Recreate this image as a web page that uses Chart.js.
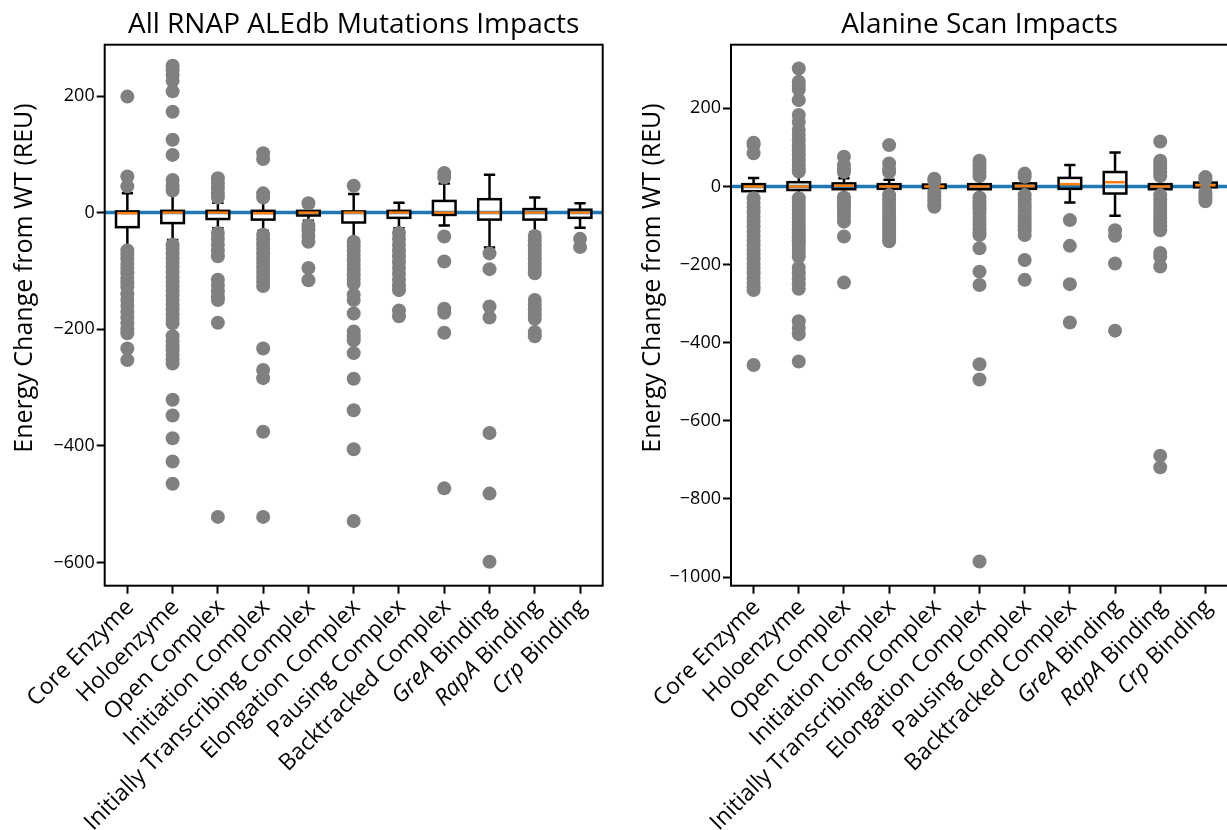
<!DOCTYPE html>
<html>
<head>
<meta charset="utf-8">
<script src="https://cdn.jsdelivr.net/npm/chart.js@4.4.1/dist/chart.umd.min.js"></script>
<style>
  html, body { margin: 0; padding: 0; background: #fff; overflow: hidden; width: 1227px; height: 830px; }
  body { position: relative; }
  canvas { position: absolute; top: 0; }
  #aledb { left: 0; }
  #alanine { left: 612px; }
</style>
</head>
<body>
<canvas id="aledb" width="612" height="830"></canvas>
<canvas id="alanine" width="640" height="830"></canvas>
<script>
// Complex / binding-site categories shared by both panels
const categories = [
  'Core Enzyme', 'Holoenzyme', 'Open Complex', 'Initiation Complex',
  'Initially Transcribing Complex', 'Elongation Complex', 'Pausing Complex',
  'Backtracked Complex', 'GreA Binding', 'RapA Binding', 'Crp Binding'
];
// protein names set in italics in the axis labels
const italicNames = ['GreA', 'RapA', 'Crp'];
const yAxisLabel = 'Energy Change from WT (REU)';
const referenceEnergy = 0;

// Panel 1: all RNAP ALEdb mutations (REU)
const aledbTicks       = [-600, -400, -200, 0, 200];
const aledbWhiskerHigh = [33, 34, 17, 23, 10, 32, 17, 50, 65, 26, 16];
const aledbQ3          = [2, 3, 3, 3, 3, 2, 3, 20, 23, 6, 5];
const aledbMedian      = [-1, 0, 0, -1, 0, 0, 0, 0, 0, 0, 0];
const aledbQ1          = [-25, -18, -11, -12, -5, -17, -9, -4, -12, -12, -9];
const aledbWhiskerLow  = [-61, -47, -27, -31, -14, -45, -27, -22, -60, -34, -26];
const aledbOutliers = [
  [199, 62, 45, -65, -72, -80, -88, -96, -104, -112, -120, -128, -140, -150, -160, -170, -180, -190, -200, -207, -233, -253],
  [252, 244, 236, 226, 208, 173, 125, 99, 56, 46, 38, -55, -62, -70, -78, -86, -94, -102, -110, -118, -126, -134, -142, -150, -158, -166, -174, -182, -190, -212, -220, -228, -236, -244, -252, -259, -321, -348, -387, -427, -465],
  [59, 50, 42, 33, 26, -35, -45, -55, -65, -75, -115, -125, -135, -145, -150, -189, -522],
  [102, 92, 33, 26, -38, -46, -54, -62, -70, -78, -86, -94, -102, -110, -118, -126, -233, -270, -284, -376, -522],
  [16, -22, -30, -40, -50, -95, -116],
  [46, -50, -58, -66, -74, -82, -90, -98, -106, -114, -122, -141, -150, -173, -204, -212, -219, -241, -285, -339, -406, -529],
  [-35, -45, -55, -65, -75, -85, -95, -105, -115, -125, -133, -168, -178],
  [68, 60, -41, -84, -165, -172, -206, -473],
  [-70, -97, -161, -180, -378, -482, -599],
  [-40, -48, -56, -64, -72, -80, -88, -96, -104, -150, -158, -166, -174, -182, -205, -212],
  [-45, -59]
];

// Panel 2: alanine scan (REU)
const alanineTicks       = [-1000, -800, -600, -400, -200, 0, 200];
const alanineWhiskerHigh = [22, 34, 21, 17, 8, 22, 18, 55, 87, 21, 14];
const alanineQ3          = [6, 11, 8, 6, 5, 6, 8, 22, 37, 6, 10];
const alanineMedian      = [0, 0, 2, 0, 0, 0, 1, 6, 11, 0, 3];
const alanineQ1          = [-12, -9, -7, -6, -4, -7, -6, -6, -18, -7, -2];
const alanineWhiskerLow  = [-26, -26, -20, -15, -9, -22, -17, -41, -75, -17, -9];
const alanineOutliers = [
  [112, 106, 85, -30, -42, -54, -66, -78, -90, -102, -114, -126, -138, -150, -162, -174, -186, -198, -210, -222, -234, -246, -258, -265, -457],
  [302, 268, 258, 248, 221, 183, 165, 145, 132, 118, 105, 92, 80, 68, 56, 45, 38, -30, -40, -50, -60, -70, -80, -90, -100, -110, -120, -130, -140, -150, -160, -170, -180, -208, -222, -236, -250, -262, -345, -362, -378, -448],
  [76, 55, 45, 37, -28, -38, -48, -58, -68, -78, -90, -128, -246],
  [106, 59, 45, 37, -22, -32, -42, -52, -62, -72, -82, -92, -102, -112, -122, -132, -140],
  [20, 14, -15, -25, -35, -45, -52],
  [66, 56, 46, 36, 27, -28, -38, -48, -58, -68, -78, -88, -98, -108, -118, -124, -158, -218, -252, -455, -494, -960],
  [33, 25, -22, -32, -42, -52, -62, -72, -82, -92, -102, -112, -124, -188, -239],
  [-86, -152, -250, -348],
  [-112, -126, -197, -369],
  [115, 66, 56, 46, 36, 27, -22, -32, -42, -52, -62, -72, -82, -92, -102, -112, -170, -180, -205, -689, -719],
  [24, 18, -14, -22, -30, -38]
];

const FONT = "'Open Sans', sans-serif";
Chart.defaults.font.family = FONT;
Chart.defaults.color = '#000';

function fmtTick(v) {
  return v < 0 ? '\u2212' + Math.abs(v) : String(v);
}

// Box-and-whisker glyphs plus the zero reference line, drawn under the outlier points
const boxPlugin = {
  id: 'boxes',
  beforeDatasetsDraw(chart, args, opts) {
    const { ctx, chartArea, scales: { x, y } } = chart;
    ctx.save();
    const y0 = y.getPixelForValue(referenceEnergy);
    ctx.strokeStyle = '#1f77b4';
    ctx.lineWidth = 3.5;
    ctx.beginPath();
    ctx.moveTo(chartArea.left, y0);
    ctx.lineTo(chartArea.right, y0);
    ctx.stroke();

    const step = x.getPixelForValue(1) - x.getPixelForValue(0);
    const halfBox = step * 0.25;
    const halfCap = step * 0.125;
    for (let i = 0; i < categories.length; i++) {
      const cx = x.getPixelForValue(i);
      const pHi = y.getPixelForValue(opts.whiskerHigh[i]);
      const pQ3 = y.getPixelForValue(opts.q3[i]);
      const pMed = y.getPixelForValue(opts.median[i]);
      const pQ1 = y.getPixelForValue(opts.q1[i]);
      const pLo = y.getPixelForValue(opts.whiskerLow[i]);
      ctx.strokeStyle = '#000';
      ctx.lineWidth = 2.5;
      ctx.beginPath();
      ctx.moveTo(cx, pQ3); ctx.lineTo(cx, pHi);
      ctx.moveTo(cx, pQ1); ctx.lineTo(cx, pLo);
      ctx.moveTo(cx - halfCap, pHi); ctx.lineTo(cx + halfCap, pHi);
      ctx.moveTo(cx - halfCap, pLo); ctx.lineTo(cx + halfCap, pLo);
      ctx.stroke();
      ctx.strokeRect(cx - halfBox, pQ3, halfBox * 2, pQ1 - pQ3);
      ctx.strokeStyle = '#ff7f0e';
      ctx.lineWidth = 2.5;
      ctx.beginPath();
      ctx.moveTo(cx - halfBox + 1.25, pMed);
      ctx.lineTo(cx + halfBox - 1.25, pMed);
      ctx.stroke();
    }
    ctx.restore();
  }
};

// Four-sided axes frame
const framePlugin = {
  id: 'frame',
  afterDatasetsDraw(chart) {
    const { ctx, chartArea: a } = chart;
    ctx.save();
    ctx.strokeStyle = '#000';
    ctx.lineWidth = 2;
    ctx.strokeRect(a.left, a.top, a.right - a.left, a.bottom - a.top);
    ctx.restore();
  }
};

// Panel title centred over the plotting area, and the rotated y-axis label
const textPlugin = {
  id: 'panelText',
  afterDraw(chart, args, opts) {
    const { ctx, chartArea: a } = chart;
    ctx.save();
    ctx.fillStyle = '#000';
    ctx.font = '28px ' + FONT;
    ctx.textAlign = 'center';
    ctx.textBaseline = 'alphabetic';
    ctx.fillText(opts.title, (a.left + a.right) / 2, 33);

    ctx.font = '25px ' + FONT;
    ctx.textBaseline = 'middle';
    ctx.translate(opts.labelX, opts.labelY);
    ctx.rotate(-Math.PI / 2);
    ctx.fillText(yAxisLabel, 0, 0);
    ctx.restore();
  }
};

// Rotated category labels; protein names are set in italics
const xLabelPlugin = {
  id: 'xLabels',
  afterDraw(chart) {
    const { ctx, chartArea: a, scales: { x } } = chart;
    const size = 23;
    ctx.save();
    ctx.fillStyle = '#000';
    ctx.textBaseline = 'middle';
    ctx.textAlign = 'left';
    categories.forEach((label, i) => {
      const words = label.split(' ');
      const parts = italicNames.includes(words[0])
        ? [[words[0], true], [' ' + words.slice(1).join(' '), false]]
        : [[label, false]];
      let total = 0;
      const widths = parts.map(([t, it]) => {
        ctx.font = (it ? 'italic ' : '') + size + 'px ' + FONT;
        const w = ctx.measureText(t).width;
        total += w;
        return w;
      });
      ctx.save();
      ctx.translate(x.getPixelForValue(i) + 3, a.bottom + 18);
      ctx.rotate(-Math.PI / 4);
      let xx = -total;
      parts.forEach(([t, it], k) => {
        ctx.font = (it ? 'italic ' : '') + size + 'px ' + FONT;
        ctx.fillText(t, xx, 0);
        xx += widths[k];
      });
      ctx.restore();
    });
    ctx.restore();
  }
};

function makePanel(id, p) {
  const points = [];
  p.outliers.forEach((vals, i) => vals.forEach(v => points.push({ x: categories[i], y: v })));
  return new Chart(document.getElementById(id), {
    type: 'scatter',
    data: {
      labels: categories,
      datasets: [{
        data: points,
        backgroundColor: '#808080',
        borderWidth: 0,
        pointRadius: 7,
        pointHoverRadius: 7
      }]
    },
    options: {
      responsive: false,
      animation: false,
      devicePixelRatio: 1,
      layout: { padding: { top: 44.7, right: p.padRight, bottom: 0, left: 0 } },
      plugins: {
        legend: { display: false },
        tooltip: { enabled: false },
        boxes: {
          whiskerHigh: p.whiskerHigh, q3: p.q3, median: p.median,
          q1: p.q1, whiskerLow: p.whiskerLow
        },
        panelText: { title: p.title, labelX: p.labelX, labelY: 278 }
      },
      scales: {
        x: {
          type: 'category',
          labels: categories,
          offset: true,
          border: { display: false },
          grid: { display: true, drawOnChartArea: false, drawTicks: true, tickLength: 8, tickWidth: 2, tickColor: '#000' },
          ticks: { display: false },
          afterFit: s => { s.height = 830 - 585.7; }
        },
        y: {
          type: 'linear',
          min: p.min,
          max: p.max,
          border: { display: false },
          grid: { display: true, drawOnChartArea: false, drawTicks: true, tickLength: 8, tickWidth: 2, tickColor: '#000' },
          ticks: { padding: 2, color: '#000', font: { size: 18 }, callback: fmtTick },
          afterBuildTicks: s => { s.ticks = p.ticks.map(v => ({ value: v })); },
          afterFit: s => { s.width = p.axisWidth; }
        }
      }
    },
    plugins: [boxPlugin, framePlugin, textPlugin, xLabelPlugin]
  });
}

makePanel('aledb', {
  title: 'All RNAP ALEdb Mutations Impacts',
  min: -640, max: 288, ticks: aledbTicks,
  axisWidth: 104.7, padRight: 9.3, labelX: 25,
  whiskerHigh: aledbWhiskerHigh, q3: aledbQ3, median: aledbMedian,
  q1: aledbQ1, whiskerLow: aledbWhiskerLow, outliers: aledbOutliers
});

makePanel('alanine', {
  title: 'Alanine Scan Impacts',
  min: -1022, max: 363, ticks: alanineTicks,
  axisWidth: 119, padRight: 24, labelX: 41,
  whiskerHigh: alanineWhiskerHigh, q3: alanineQ3, median: alanineMedian,
  q1: alanineQ1, whiskerLow: alanineWhiskerLow, outliers: alanineOutliers
});
</script>
</body>
</html>
